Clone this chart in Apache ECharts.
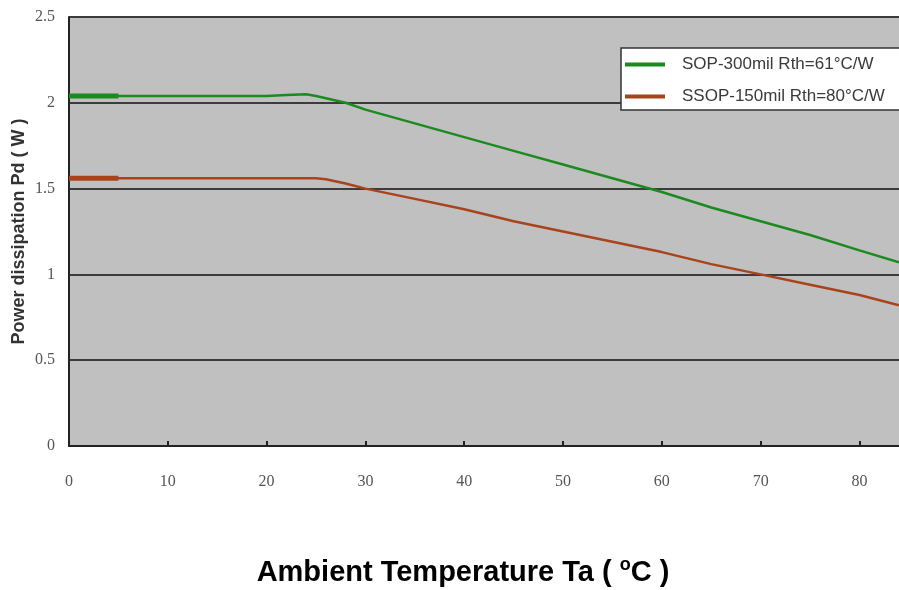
<!DOCTYPE html>
<html>
<head>
<meta charset="utf-8">
<title>Power dissipation vs ambient temperature</title>
<script src="https://cdn.jsdelivr.net/npm/echarts@6/dist/echarts.min.js"></script>
<style>
  html, body { margin: 0; padding: 0; background: #ffffff; }
  #chart { width: 899px; height: 590px; }
</style>
</head>
<body>
<div id="chart"></div>
<script>
// Derating curves: ambient temperature (°C) vs allowed power dissipation (W)
const sopName = 'SOP-300mil Rth=61°C/W';
const ssopName = 'SSOP-150mil Rth=80°C/W';

const sopTemp = [0, 5, 10, 15, 20, 22, 24, 25, 28, 30, 35, 40, 45, 50, 55, 60, 65, 70, 75, 80, 84];
const sopPower = [2.04, 2.04, 2.04, 2.04, 2.04, 2.045, 2.05, 2.04, 2.0, 1.96, 1.88, 1.80, 1.72, 1.64, 1.56, 1.48, 1.39, 1.31, 1.23, 1.14, 1.07];

const ssopTemp = [0, 5, 10, 15, 20, 25, 26, 28, 30, 35, 40, 45, 50, 55, 60, 65, 70, 75, 80, 84];
const ssopPower = [1.56, 1.56, 1.56, 1.56, 1.56, 1.56, 1.555, 1.53, 1.50, 1.44, 1.38, 1.31, 1.25, 1.19, 1.13, 1.06, 1.0, 0.94, 0.88, 0.82];

const xTicks = [0, 10, 20, 30, 40, 50, 60, 70, 80];
const yTicks = [0, 0.5, 1, 1.5, 2, 2.5];

const pairs = (xs, ys) => xs.map((x, i) => [x, ys[i]]);
// the first few degrees are drawn with a heavier stroke
const heavyPart = (xs, ys) => pairs(xs, ys).filter(p => p[0] <= 5);

const green = '#1b8a1f';
const brown = '#a8431c';

const chart = echarts.init(document.getElementById('chart'), null, { renderer: 'canvas' });

chart.setOption({
  animation: false,
  backgroundColor: '#ffffff',
  grid: {
    left: 69, right: 0, top: 17, bottom: 144,
    outerBoundsMode: 'none',
    containLabel: false,
    show: true, backgroundColor: '#c0c0c0', borderWidth: 0
  },
  legend: {
    data: [sopName, ssopName],
    orient: 'vertical',
    left: 621, top: 48,
    backgroundColor: '#ffffff',
    borderColor: '#333333',
    borderWidth: 1.5,
    borderRadius: 0,
    padding: [8, 60, 5, 4],
    itemGap: 15,
    itemWidth: 40,
    itemHeight: 4,
    icon: 'rect',
    textStyle: {
      fontFamily: 'Liberation Sans, Arial, sans-serif',
      fontSize: 17,
      color: '#3a3a3a',
      padding: [0, 0, 0, 12]
    }
  },
  xAxis: {
    type: 'value',
    min: xTicks[0],
    max: 84,
    interval: 10,
    axisLine: { show: true, onZero: false, lineStyle: { color: '#222222', width: 2 } },
    axisTick: { show: true, inside: true, length: 5, lineStyle: { color: '#222222', width: 2 } },
    splitLine: { show: false },
    axisLabel: {
      showMaxLabel: false,
      margin: 28,
      fontFamily: 'Liberation Serif, Times New Roman, serif',
      fontSize: 16,
      color: '#555555',
      formatter: v => (xTicks.indexOf(v) >= 0 ? String(v) : '')
    }
  },
  yAxis: {
    type: 'value',
    min: yTicks[0],
    max: yTicks[yTicks.length - 1],
    interval: 0.5,
    name: 'Power dissipation Pd ( W )',
    nameLocation: 'middle',
    nameRotate: 90,
    nameGap: 41,
    nameMoveOverlap: false,
    nameTextStyle: {
      fontFamily: 'Liberation Sans, Arial, sans-serif',
      fontWeight: 'bold',
      fontSize: 18,
      color: '#333333'
    },
    axisLine: { show: true, lineStyle: { color: '#222222', width: 2 } },
    axisTick: { show: false },
    splitLine: { show: true, lineStyle: { color: '#3c3c3c', width: 2 } },
    axisLabel: {
      margin: 14,
      padding: [7, 0, 0, 0],
      fontFamily: 'Liberation Serif, Times New Roman, serif',
      fontSize: 16,
      color: '#555555',
      formatter: v => (yTicks.indexOf(v) >= 0 ? String(v) : '')
    }
  },
  series: [
    {
      name: sopName, type: 'line', data: pairs(sopTemp, sopPower),
      showSymbol: false, symbol: 'none', smooth: false,
      itemStyle: { color: green },
      lineStyle: { color: green, width: 2.5 }, z: 3
    },
    {
      name: ssopName, type: 'line', data: pairs(ssopTemp, ssopPower),
      showSymbol: false, symbol: 'none', smooth: false,
      itemStyle: { color: brown },
      lineStyle: { color: brown, width: 2.5 }, z: 3
    },
    {
      name: sopName, type: 'line', data: heavyPart(sopTemp, sopPower),
      showSymbol: false, symbol: 'none',
      itemStyle: { color: green },
      lineStyle: { color: green, width: 5 }, z: 4
    },
    {
      name: ssopName, type: 'line', data: heavyPart(ssopTemp, ssopPower),
      showSymbol: false, symbol: 'none',
      itemStyle: { color: brown },
      lineStyle: { color: brown, width: 5 }, z: 4
    }
  ],
  graphic: [
    {
      type: 'text',
      x: 463, y: 573,
      style: {
        text: '{a|Ambient Temperature Ta ( }{s|o}{a|C )}',
        align: 'center',
        verticalAlign: 'middle',
        rich: {
          a: { fontFamily: 'Liberation Sans, Arial, sans-serif', fontWeight: 'bold', fontSize: 29, color: '#111111', lineHeight: 34 },
          s: { fontFamily: 'Liberation Sans, Arial, sans-serif', fontWeight: 'bold', fontSize: 18, color: '#111111', lineHeight: 18, verticalAlign: 'top' }
        }
      }
    }
  ]
});
</script>
</body>
</html>
